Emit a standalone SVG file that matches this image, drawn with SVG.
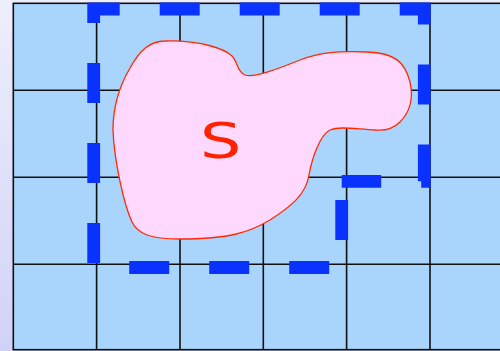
<svg xmlns="http://www.w3.org/2000/svg" width="500" height="351" viewBox="0 0 500 351">
<defs>
<linearGradient id="bg" x1="0" y1="0" x2="0" y2="1">
<stop offset="0" stop-color="#eeeefc"/>
<stop offset="1" stop-color="#d2d2f8"/>
</linearGradient>
<style>
.grid{stroke:#111;stroke-width:1.6;fill:none}
.dash{stroke:#0a32ff;stroke-width:12.8;fill:none;stroke-dasharray:40 40;stroke-linejoin:miter}
.blob{fill:#ffd8fd;stroke:#ff2a00;stroke-width:1.3}
.lbl{font-family:"DejaVu Sans",sans-serif;font-size:49px;fill:#ff2200}
</style>
</defs>
<rect x="0" y="0" width="500" height="351" fill="url(#bg)"/>
<g id="grid">
<rect x="13.3" y="3.3" width="500" height="346.4" fill="#a9d4fb" stroke="#111" stroke-width="1.6"/>
<path class="grid" d="M96.6,3.3V350M180,3.3V350M263.3,3.3V350M346.6,3.3V350M430,3.3V350M13.3,90.3H500M13.3,177.3H500M13.3,264.3H500"/>
</g>
<g id="region-S">
<path class="blob" d="M165,41 C200,40 225,49 232,56 C238,62 237,72 245,75 C255,78 280,68 300,60 C320,52 340,51 367,52 C395,53 405,62 410,82 C414,100 410,112 400,122 C393,129 385,131 375,130 C355,129 340,126 330,130 C320,135 312,158 309,175 C306,195 290,207 270,220 C250,232 230,239 180,239 C150,239 138,234 132,222 C124,205 114,160 113,130 C113,105 120,85 130,68 C140,50 150,41 165,41 Z"/>
<text class="lbl" transform="translate(220.8,157.5) scale(1.33,1)" text-anchor="middle">S</text>
</g>
<g id="boundary">
<path class="dash" d="M341.7,200 V267.5 H93.7 V9 H424.3 V181.3 H341.7"/>
</g>
</svg>
